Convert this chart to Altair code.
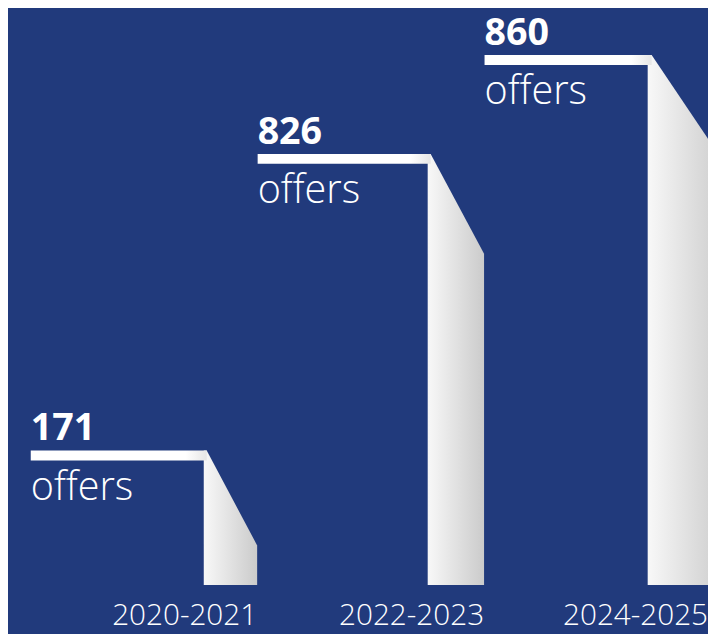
import altair as alt
import pandas as pd

# ---- data ----
periods = ["2020-2021", "2022-2023", "2024-2025"]
offers = [171, 826, 860]
# displayed step heights (the picture does not draw them proportional to the counts)
levels = [136, 436, 536]

# ---- layout constants ----
W, H = 708, 626
X0, STEP = 23, 229.5
LINE_LEN = [178, 175, 169]
SHAPE_LEFT = [175, 172, 165]
SHAPE_RIGHT = [229, 229, 243]
DROP = [96, 101, 110]
THICK = 10
BG = "#213a7c"

rects, areas, nums, words, labels = [], [], [], [], []
for i, (p, n, h) in enumerate(zip(periods, offers, levels)):
    s = X0 + STEP * i
    rects.append({"period": p, "x": s, "x2": s + LINE_LEN[i], "y": h, "y2": h - THICK})
    areas += [
        {"period": p, "x": s + SHAPE_LEFT[i], "y": h, "y0": 0},
        {"period": p, "x": s + LINE_LEN[i], "y": h, "y0": 0},
        {"period": p, "x": s + SHAPE_RIGHT[i], "y": h - DROP[i], "y0": 0},
    ]
    nums.append({"period": p, "x": s, "y": h + 10.5, "t": str(n)})
    words.append({"period": p, "x": s, "y": h - 50, "t": "offers"})
    labels.append({"period": p, "x": min(s + 229, W), "y": -40, "t": p})

xs = alt.Scale(domain=[0, W], range=[0, W], nice=False, zero=False)
ys = alt.Scale(domain=[-46, 580], range=[H, 0], nice=False, zero=False)

area = alt.Chart(pd.DataFrame(areas)).mark_area(
    clip=True,
    color=alt.Gradient(
        gradient="linear",
        stops=[alt.GradientStop(color="#f8f8f8", offset=0),
               alt.GradientStop(color="#cbcbcb", offset=1)],
        x1=0, x2=1, y1=0, y2=0,
    ),
).encode(
    x=alt.X("x:Q", scale=xs, axis=None),
    y=alt.Y("y:Q", scale=ys, axis=None, stack=None),
    y2="y0:Q",
    detail="period:N",
)

line = alt.Chart(pd.DataFrame(rects)).mark_rect(
    clip=True,
    color=alt.Gradient(
        gradient="linear",
        stops=[alt.GradientStop(color="#ffffff", offset=0),
               alt.GradientStop(color="#ffffff", offset=0.88),
               alt.GradientStop(color="#e6e6e6", offset=1)],
        x1=0, x2=1, y1=0, y2=0,
    ),
).encode(
    x=alt.X("x:Q", scale=xs, axis=None),
    x2="x2:Q",
    y=alt.Y("y:Q", scale=ys, axis=None),
    y2="y2:Q",
)

num_text = alt.Chart(pd.DataFrame(nums)).mark_text(
    align="left", baseline="alphabetic", font="Open Sans", fontSize=38,
    fontWeight="bold", color="white",
).encode(x=alt.X("x:Q", scale=xs, axis=None), y=alt.Y("y:Q", scale=ys, axis=None), text="t:N")

word_text = alt.Chart(pd.DataFrame(words)).mark_text(
    align="left", baseline="alphabetic", font="Open Sans", fontSize=40,
    fontWeight=300, color="white",
).encode(x=alt.X("x:Q", scale=xs, axis=None), y=alt.Y("y:Q", scale=ys, axis=None), text="t:N")

label_text = alt.Chart(pd.DataFrame(labels)).mark_text(
    align="right", baseline="alphabetic", font="Open Sans", fontSize=30,
    fontWeight=300, color="white",
).encode(x=alt.X("x:Q", scale=xs, axis=None), y=alt.Y("y:Q", scale=ys, axis=None), text="t:N")

chart = alt.layer(area, line, num_text, word_text, label_text).properties(
    width=W, height=H, background=BG, padding=0,
    autosize=alt.AutoSizeParams(type="none"),
).configure_view(stroke=None)

chart.save("out.html", embed_options={"renderer": "svg", "actions": False})
